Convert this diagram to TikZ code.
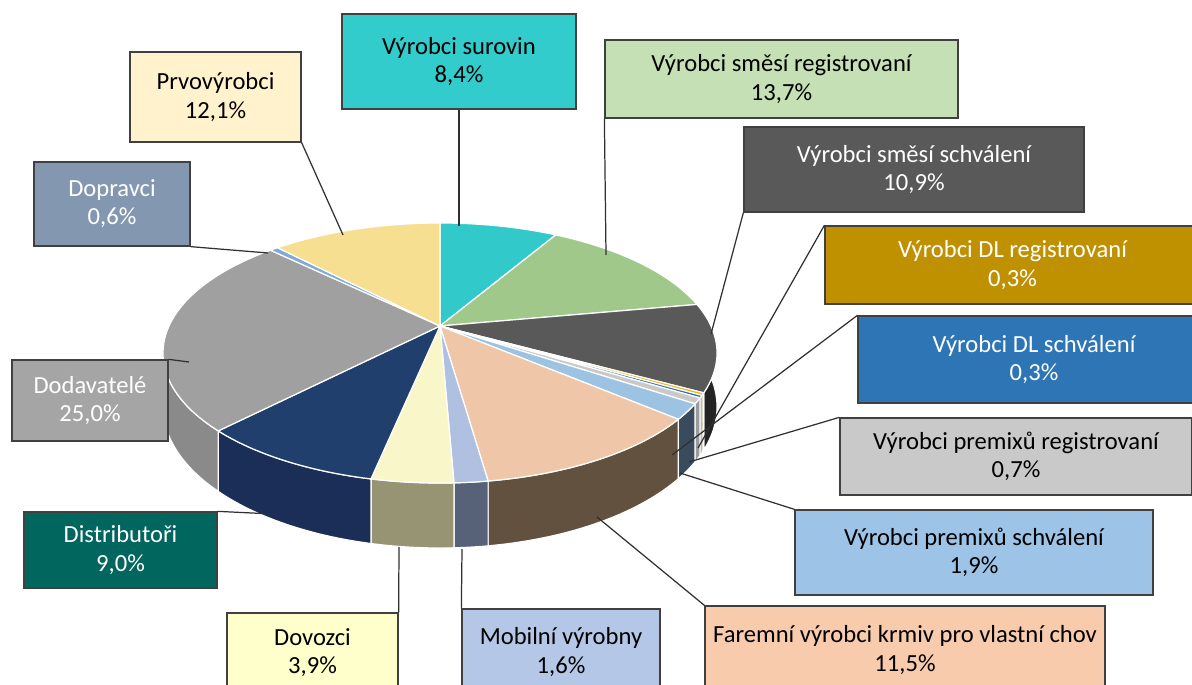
\documentclass[tikz,border=0pt]{standalone}
\usepackage{fontspec}
\setmainfont{Carlito}

% slice colours (top face / side face)
\definecolor{surT}{HTML}{31C9C9}
\definecolor{smrT}{HTML}{A0C88A}
\definecolor{smsT}{HTML}{595959}  \definecolor{smsS}{HTML}{242424}
\definecolor{dlrT}{HTML}{F0B400}  \definecolor{dlrS}{HTML}{8A6D1A}
\definecolor{dlsT}{HTML}{2E6FC0}  \definecolor{dlsS}{HTML}{1F4A7A}
\definecolor{prrT}{HTML}{C9C9C9}  \definecolor{prrS}{HTML}{9A9A9A}
\definecolor{prsT}{HTML}{9DC3E3}  \definecolor{prsS}{HTML}{3A4B5E}
\definecolor{farT}{HTML}{EFC6A8}  \definecolor{farS}{HTML}{62513F}
\definecolor{mobT}{HTML}{AFC0E0}  \definecolor{mobS}{HTML}{576178}
\definecolor{dovT}{HTML}{F9F7C9}  \definecolor{dovS}{HTML}{979474}
\definecolor{disT}{HTML}{213F6D}  \definecolor{disS}{HTML}{1B2E57}
\definecolor{dodT}{HTML}{A0A0A0}  \definecolor{dodS}{HTML}{8A8A8A}
\definecolor{dopT}{HTML}{80A8D8}
\definecolor{prvT}{HTML}{F7DF92}

% box colours
\definecolor{surB}{HTML}{33CCCC}
\definecolor{smrB}{HTML}{C5E0B4}
\definecolor{smsB}{HTML}{595959}
\definecolor{dlrB}{HTML}{BF9000}
\definecolor{dlsB}{HTML}{2E75B6}
\definecolor{prrB}{HTML}{C9C9C9}
\definecolor{prsB}{HTML}{9DC3E6}
\definecolor{farB}{HTML}{F8CBAD}
\definecolor{mobB}{HTML}{B4C7E7}
\definecolor{dovB}{HTML}{FFFFCC}
\definecolor{disB}{HTML}{00665E}
\definecolor{dodB}{HTML}{A5A5A5}
\definecolor{dopB}{HTML}{8497B0}
\definecolor{prvB}{HTML}{FFF2CC}
\definecolor{boxline}{HTML}{404040}
\definecolor{leadline}{HTML}{303030}

% pie in perspective (pixel units)
\newcommand{\pieX}[1]{440+271*cos(#1)/(1+0.2077*sin(#1))}
\newcommand{\pieY}[1]{326-124.4*sin(#1)/(1+0.2077*sin(#1))}
\newcommand{\pieH}[1]{51.5/(1+0.2077*sin(#1))}

\begin{document}
\begin{tikzpicture}[x=0.02cm, y=-0.02cm,
    tagbox/.style={rectangle, draw=boxline, line width=0.75pt, inner sep=0pt, align=center, font=\fontsize{14}{16}\selectfont},
    leader/.style={draw=leadline, line width=0.7pt},
    slice/.style={draw=white, line width=0.7pt, line join=round}
]
    \useasboundingbox (0,0) rectangle (1192,685);
    \fill[white] (0,0) rectangle (1192,685);

    % Pie sides
    \foreach \a/\b/\cs in {90/59.73/surT, 59.73/10.36/smrT, 10.36/-28.92/smsS, -28.92/-30.00/dlrS,
        -30.00/-31.08/dlsS, -31.08/-33.60/prrS, -33.60/-40.45/prsS, -40.45/-81.89/farS,
        -81.89/-87.66/mobS, -87.66/-101.71/dovS, -101.71/-134.14/disS, -134.14/-224.23/dodS,
        -224.23/-226.39/dopT, -226.39/-270/prvT} {
        \filldraw[slice, fill=\cs] plot[domain=\a:\b, samples=40] ({\pieX{\x}}, {\pieY{\x}})
            -- plot[domain=\b:\a, samples=40] ({\pieX{\x}}, {\pieY{\x}+\pieH{\x}}) -- cycle;
    }

    % Pie top
    \coordinate (apex) at (440,326);
    \foreach \a/\b/\ct in {90/59.73/surT, 59.73/10.36/smrT, 10.36/-28.92/smsT, -28.92/-30.00/dlrT,
        -30.00/-31.08/dlsT, -31.08/-33.60/prrT, -33.60/-40.45/prsT, -40.45/-81.89/farT,
        -81.89/-87.66/mobT, -87.66/-101.71/dovT, -101.71/-134.14/disT, -134.14/-224.23/dodT,
        -224.23/-226.39/dopT, -226.39/-270/prvT} {
        \filldraw[slice, fill=\ct] (apex) -- plot[domain=\a:\b, samples=40] ({\pieX{\x}}, {\pieY{\x}}) -- cycle;
    }

    % Leader ends on the pie
    \coordinate (p-sur) at (459,226);
    \coordinate (p-smr) at (606,255);
    \coordinate (p-sms) at (711,334);
    \coordinate (p-dlr) at (698,448);
    \coordinate (p-dls) at (672,455);
    \coordinate (p-prr) at (689,462);
    \coordinate (p-prs) at (680,473);
    \coordinate (p-far) at (597,517);
    \coordinate (p-mob) at (462,549);
    \coordinate (p-dov) at (399,547);
    \coordinate (p-dis) at (273,514);
    \coordinate (p-dod) at (189,362);
    \coordinate (p-dop) at (268,253);
    \coordinate (p-prv) at (343,235);

    % Labels
    \node[tagbox, fill=surB, minimum width=4.68cm, minimum height=1.9cm] (sur) at (459,61.5) {Výrobci surovin\\8,4\%};
    \node[tagbox, fill=smrB, minimum width=7.06cm, minimum height=1.56cm] (smr) at (781.5,79) {Výrobci směsí registrovaní\\13,7\%};
    \node[tagbox, fill=smsB, text=white, minimum width=6.8cm, minimum height=1.7cm] (sms) at (914,169.5) {Výrobci směsí schválení\\10,9\%};
    \node[tagbox, fill=dlrB, text=white, minimum width=7.5cm, minimum height=1.56cm] (dlr) at (1012.5,265) {Výrobci DL registrovaní\\0,3\%};
    \node[tagbox, fill=dlsB, text=white, minimum width=7.04cm, minimum height=1.74cm] (dls) at (1034,359.5) {Výrobci DL schválení\\0,3\%};
    \node[tagbox, fill=prrB, minimum width=7.04cm, minimum height=1.54cm] (prr) at (1016,456.5) {Výrobci premixů registrovaní\\0,7\%};
    \node[tagbox, fill=prsB, minimum width=7.16cm, minimum height=1.7cm] (prs) at (974,552.5) {Výrobci premixů schválení\\1,9\%};
    \node[tagbox, fill=farB, minimum width=8cm, minimum height=1.76cm] (far) at (905,650) {Faremní výrobci krmiv pro vlastní chov\\11,5\%};
    \node[tagbox, fill=mobB, minimum width=3.96cm, minimum height=1.72cm] (mob) at (561,652) {Mobilní výrobny\\1,6\%};
    \node[tagbox, fill=dovB, minimum width=3.42cm, minimum height=1.6cm] (dov) at (312.5,653) {Dovozci\\3,9\%};
    \node[tagbox, fill=disB, text=white, minimum width=3.86cm, minimum height=1.52cm] (dis) at (120.5,550) {Distributoři\\9,0\%};
    \node[tagbox, fill=dodB, text=white, minimum width=3.12cm, minimum height=1.62cm] (dod) at (90,400.5) {Dodavatelé\\25,0\%};
    \node[tagbox, fill=dopB, text=white, minimum width=3.12cm, minimum height=1.68cm] (dop) at (112,204) {Dopravci\\0,6\%};
    \node[tagbox, fill=prvB, minimum width=3.42cm, minimum height=1.8cm] (prv) at (215.5,97) {Prvovýrobci\\12,1\%};

    % Leader lines
    \draw[leader] (sur.south) -- (p-sur);
    \draw[leader] (smr.south west) -- (p-smr);
    \draw[leader] (sms.south west) -- (p-sms);
    \draw[leader] (dlr.north west) -- (p-dlr);
    \draw[leader] (dls.north west) -- (p-dls);
    \draw[leader] (prr.north west) -- (p-prr);
    \draw[leader] (prs.north west) -- (p-prs);
    \draw[leader] (far.north west) -- (p-far);
    \draw[leader] (mob.north west) -- (p-mob);
    \draw[leader] (dov.north east) -- (p-dov);
    \draw[leader] (dis.north east) -- (p-dis);
    \draw[leader] (dod.north east) -- (p-dod);
    \draw[leader] (dop.south east) -- (p-dop);
    \draw[leader] (prv.south east) -- (p-prv);

\end{tikzpicture}
\end{document}
